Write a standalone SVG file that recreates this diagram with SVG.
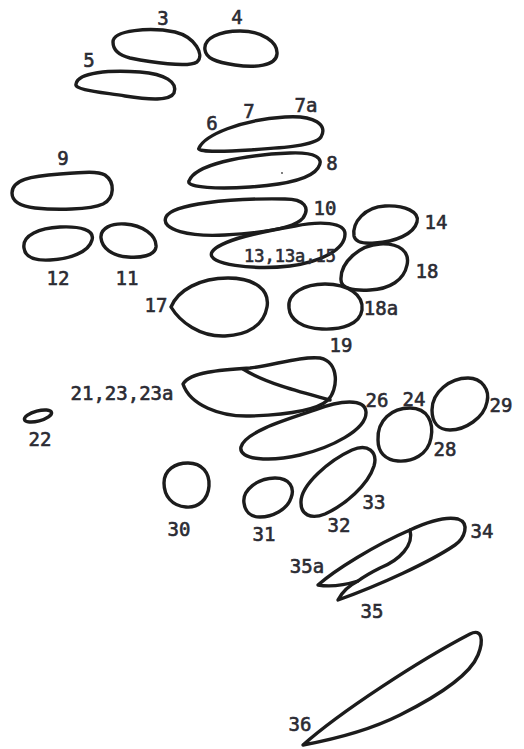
<svg xmlns="http://www.w3.org/2000/svg" width="524" height="749" viewBox="0 0 524 749">
<style>
.o{fill:none;stroke:#1c1c1c;stroke-width:3.4;stroke-linejoin:round;stroke-linecap:round}
.t{font-family:"DejaVu Sans Mono","Liberation Mono",monospace;font-size:19px;fill:#2b2b33;stroke:#2b2b33;stroke-width:0.6;text-anchor:middle}
.s{font-size:17px}
</style>
<rect width="524" height="749" fill="#ffffff"/>
<g id="n3"><path class="o" d="M113,42 C113,30 150,27 175,32 C195,37 205,55 197,62 C188,68 150,62 130,58 C118,55 113,50 113,42 Z"/><text class="t" x="163" y="25">3</text></g>
<g id="n4"><path class="o" d="M205,50 C203,38 220,31 240,31 C262,31 278,42 277,54 C276,66 255,68 235,65 C215,62 206,58 205,50 Z"/><text class="t" x="237" y="24">4</text></g>
<g id="n5"><path class="o" d="M76,84 C78,72 110,70 140,72 C165,74 178,82 174,93 C170,101 150,100 125,96 C100,92 74,90 76,84 Z"/><text class="t" x="89" y="67">5</text></g>
<g id="n6"><path class="o" d="M199,148 C205,135 240,120 285,117 C315,115 328,125 321,137 C315,146 280,148 250,150 C220,152 196,152 199,148 Z"/><text class="t" x="212" y="130">6</text><text class="t" x="249" y="118">7</text><text class="t" x="306" y="112">7a</text></g>
<g id="n8"><path class="o" d="M189,181 C195,165 240,155 290,153 C315,152 325,158 318,168 C310,180 280,185 250,187 C220,189 186,188 189,181 Z"/><circle cx="282" cy="173" r="0.9" fill="#444"/><text class="t" x="332" y="170">8</text></g>
<g id="n9"><path class="o" d="M12,193 C12,180 30,176 60,174 C85,172 98,171 105,175 C115,182 115,198 103,204 C90,210 55,210 35,208 C18,206 12,200 12,193 Z"/><text class="t" x="63" y="165">9</text></g>
<g id="n10"><path class="o" d="M166,217 C172,204 230,198 285,199 C305,199 310,208 303,218 C295,228 260,233 225,235 C190,237 160,230 166,217 Z"/><text class="t" x="325" y="215">10</text></g>
<g id="n12"><path class="o" d="M24,248 C22,235 40,228 60,227 C80,226 95,230 92,240 C89,252 70,259 50,260 C32,261 25,256 24,248 Z"/><text class="t" x="58" y="285">12</text></g>
<g id="n11"><path class="o" d="M101,238 C100,228 112,223 125,224 C142,225 157,235 156,247 C155,256 140,258 128,257 C112,256 102,248 101,238 Z"/><text class="t" x="127" y="285">11</text></g>
<g id="n13"><path class="o" d="M212,252 C220,240 260,232 295,226 C320,221 345,222 345,234 C345,250 320,262 290,266 C255,270 205,265 212,252 Z"/><text class="t s" x="290" y="262">13,13a,15</text></g>
<g id="n14"><path class="o" d="M354,236 C352,222 365,207 385,206 C405,205 420,212 417,222 C414,234 395,242 375,243 C362,244 355,241 354,236 Z"/><text class="t" x="436" y="229">14</text></g>
<g id="n18"><path class="o" d="M341,280 C340,262 360,245 380,244 C400,243 410,252 407,265 C404,280 390,289 370,290 C352,291 341,288 341,280 Z"/><text class="t" x="427" y="278">18</text></g>
<g id="n17"><path class="o" d="M171,307 C178,290 200,278 228,278 C255,278 270,290 267,307 C264,325 248,335 225,336 C200,337 180,322 171,307 Z"/><text class="t" x="156" y="312">17</text></g>
<g id="n19"><path class="o" d="M289,308 C287,293 305,284 325,284 C348,284 364,295 362,310 C360,324 342,330 322,329 C302,328 290,320 289,308 Z"/><text class="t" x="381" y="315">18a</text><text class="t" x="341" y="352">19</text></g>
<g id="n21"><path class="o" d="M183,384 C190,372 220,370 250,368 C275,365 300,356 320,358 C340,362 338,390 328,400 C315,412 280,415 250,416 C220,417 190,405 183,384 Z"/><path class="o" d="M243,369 C265,383 300,392 330,400"/><text class="t" x="122" y="400">21,23,23a</text></g>
<g id="n22"><ellipse class="o" cx="38" cy="416" rx="14" ry="5" transform="rotate(-15 38 416)"/><text class="t" x="40" y="446">22</text></g>
<g id="n26"><path class="o" d="M241,447 C245,432 285,420 315,410 C340,400 365,398 366,412 C367,430 330,448 300,455 C270,462 238,460 241,447 Z"/><text class="t" x="377" y="407">26</text></g>
<g id="n24"><path class="o" d="M378,440 C377,420 392,408 410,408 C428,408 434,423 431,438 C428,455 412,462 398,461 C385,460 378,452 378,440 Z"/><text class="t" x="414" y="406">24</text><text class="t" x="445" y="456">28</text></g>
<g id="n29"><path class="o" d="M432,410 C432,392 450,378 468,378 C482,378 490,390 487,402 C484,418 465,430 450,430 C438,430 432,422 432,410 Z"/><text class="t" x="501" y="412">29</text></g>
<g id="n30"><path class="o" d="M164,483 C164,470 175,463 188,463 C202,463 210,473 209,486 C208,500 198,508 186,507 C172,506 164,496 164,483 Z"/><text class="t" x="179" y="536">30</text></g>
<g id="n31"><path class="o" d="M244,503 C242,490 258,478 275,478 C290,478 295,488 291,498 C287,510 272,517 260,517 C250,517 245,511 244,503 Z"/><text class="t" x="264" y="541">31</text></g>
<g id="n32"><path class="o" d="M301,503 C300,485 330,460 352,450 C368,443 378,452 374,466 C368,485 345,505 325,514 C310,520 301,514 301,503 Z"/><text class="t" x="374" y="509">33</text><text class="t" x="339" y="532">32</text></g>
<g id="n34"><path class="o" d="M318,585 C335,570 375,545 410,530 C414,545 400,560 380,568 C370,573 362,578 358,581 C345,585 330,587 318,585 Z"/><path class="o" d="M410,530 C425,523 445,516 458,519 C470,523 465,538 455,545 C430,562 380,585 338,600 C342,592 350,585 358,581"/><text class="t" x="482" y="538">34</text><text class="t" x="307" y="573">35a</text><text class="t" x="372" y="618">35</text></g>
<g id="n36"><path class="o" d="M303,745 C340,712 420,660 470,634 C482,628 484,640 478,655 C470,675 440,695 400,715 C370,730 330,740 303,745 Z"/><text class="t" x="300" y="731">36</text></g>
</svg>
